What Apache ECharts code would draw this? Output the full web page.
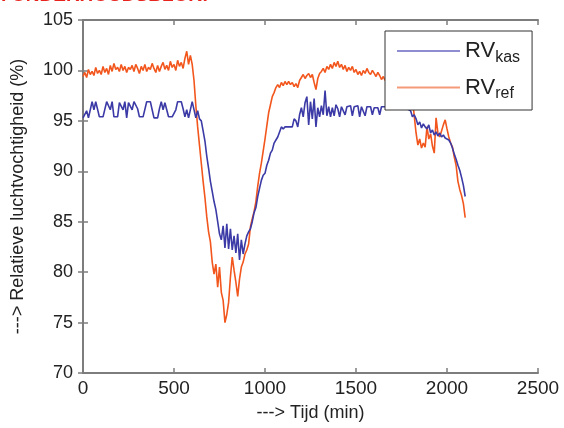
<!DOCTYPE html>
<html>
<head>
<meta charset="utf-8">
<script src="https://cdn.jsdelivr.net/npm/echarts@6/dist/echarts.min.js"></script>
<style>
  html, body { margin: 0; padding: 0; background: #fff; }
  #chart { width: 564px; height: 428px; }
</style>
</head>
<body>
<div id="chart"></div>
<script>
/* ---------- data: tijd (min), RV kas / RV ref (%) ---------- */
const tijd = [
  0, 10, 20, 30, 40, 50, 60, 70, 80, 90,
  100, 110, 120, 130, 140, 150, 160, 170, 180, 190,
  200, 210, 220, 230, 240, 250, 260, 270, 280, 290,
  300, 310, 320, 330, 340, 350, 360, 370, 380, 390,
  400, 410, 420, 430, 440, 450, 460, 470, 480, 490,
  500, 510, 520, 530, 540, 550, 560, 570, 580, 590,
  600, 610, 620, 630, 640, 650, 660, 670, 680, 690,
  700, 710, 720, 730, 740, 750, 760, 770, 780, 790,
  800, 810, 820, 830, 840, 850, 860, 870, 880, 890,
  900, 910, 920, 930, 940, 950, 960, 970, 980, 990,
  1000, 1010, 1020, 1030, 1040, 1050, 1060, 1070, 1080, 1090,
  1100, 1110, 1120, 1130, 1140, 1150, 1160, 1170, 1180, 1190,
  1200, 1210, 1220, 1230, 1240, 1250, 1260, 1270, 1280, 1290,
  1300, 1310, 1320, 1330, 1340, 1350, 1360, 1370, 1380, 1390,
  1400, 1410, 1420, 1430, 1440, 1450, 1460, 1470, 1480, 1490,
  1500, 1510, 1520, 1530, 1540, 1550, 1560, 1570, 1580, 1590,
  1600, 1610, 1620, 1630, 1640, 1650, 1660, 1670, 1680, 1690,
  1700, 1710, 1720, 1730, 1740, 1750, 1760, 1770, 1780, 1790,
  1800, 1810, 1820, 1830, 1840, 1850, 1860, 1870, 1880, 1890,
  1900, 1910, 1920, 1930, 1940, 1950, 1960, 1970, 1980, 1990,
  2000, 2010, 2020, 2030, 2040, 2050, 2060, 2070, 2080, 2090,
  2100
]

const rvKas = [
  95.3, 95.4, 96.0, 95.3, 95.4, 96.9, 96.1, 96.9, 96.8, 95.4,
  95.3, 95.4, 95.3, 96.9, 96.8, 96.1, 96.9, 95.4, 95.3, 95.4,
  96.8, 96.9, 96.1, 96.9, 95.3, 96.8, 96.9, 96.1, 96.9, 96.8,
  96.2, 95.4, 95.3, 95.4, 95.3, 96.9, 96.8, 96.9, 96.1, 95.3,
  95.4, 95.3, 96.2, 96.9, 96.1, 96.8, 96.9, 95.4, 95.3, 95.4,
  95.3, 96.1, 96.9, 96.8, 96.9, 96.2, 95.4, 96.1, 95.3, 95.4,
  96.9, 96.8, 95.3, 96.0, 95.2, 95.0, 94.0, 93.0, 91.5, 90.3,
  89.0, 88.0, 87.0, 86.2, 85.0, 83.8, 83.2, 84.6, 82.4, 84.8,
  82.3, 84.3, 82.2, 83.6, 81.9, 83.8, 81.2, 83.2, 81.8, 82.8,
  83.6, 84.0, 84.3, 85.0, 85.9, 86.4, 87.5, 88.3, 89.1, 89.6,
  89.8, 90.6, 91.1, 91.8, 92.1, 92.8, 93.1, 93.4, 93.3, 94.4,
  94.2, 94.4, 94.3, 94.4, 94.3, 94.4, 95.2, 95.0, 94.4, 95.6,
  96.3, 95.4, 96.8, 97.4, 94.6, 96.9, 95.2, 97.2, 94.4, 96.3,
  95.4, 96.5, 95.6, 98.0, 95.5, 96.4, 95.4, 96.3, 95.5, 96.6,
  96.2, 95.4, 96.4, 96.3, 95.6, 96.4, 96.3, 96.5, 95.5, 96.4,
  96.3, 96.5, 95.4, 96.4, 96.3, 95.5, 96.4, 96.3, 96.4, 95.6,
  96.3, 96.4, 96.3, 95.6, 96.4, 96.3, 96.4, 96.2, 96.4, 96.3,
  96.2, 96.4, 96.3, 96.2, 96.3, 96.4, 96.2, 96.3, 96.2, 96.1,
  96.0, 95.4, 95.6, 95.2, 94.6, 94.9, 94.3, 94.7, 94.4, 94.2,
  94.6, 93.8, 94.1, 93.6, 93.9, 93.5, 93.8, 93.4, 93.6, 93.3,
  93.4, 93.1, 92.8, 92.3, 91.7, 91.2, 90.6, 90.1, 89.4, 88.6,
  87.5
]

const rvRef = [
  99.4, 99.8, 99.3, 100.1, 99.6, 99.9, 99.5, 100.3, 99.7, 100.0,
  99.6, 100.4, 99.8, 100.2, 99.6, 100.5, 99.9, 100.7, 100.1, 100.3,
  99.9, 100.6, 100.0, 100.4, 99.8, 100.3, 100.1, 100.5, 99.9, 100.6,
  100.2, 99.7, 100.4, 100.0, 100.6, 99.9, 100.3, 100.1, 100.7, 100.2,
  99.8, 100.5, 99.9, 100.4, 100.8, 100.1, 100.5, 100.0, 100.9, 100.3,
  100.6, 100.0, 101.0, 100.4, 100.8, 100.2, 101.2, 101.9, 100.6, 101.5,
  100.6, 99.0, 96.5, 94.4, 92.6, 90.8, 89.0, 87.4, 85.5, 84.0,
  83.0, 81.0, 79.8, 80.8, 78.5, 80.5, 78.0, 77.2, 75.0, 75.8,
  77.0, 79.5, 81.5, 80.2, 79.0, 77.6, 79.3, 80.5, 81.0, 81.8,
  82.2, 82.8, 84.5, 85.3, 86.0, 87.0, 88.5, 89.8, 90.8, 92.0,
  93.2, 94.5, 95.8, 96.6, 97.4, 97.8, 98.3, 98.6, 98.3, 98.8,
  98.5, 98.9, 98.6, 98.9, 98.6, 98.8, 98.4, 98.7, 98.3, 99.0,
  99.3, 99.6, 99.2, 99.5, 99.7, 99.3, 99.6, 98.8, 98.1, 99.2,
  99.7, 99.9, 100.2, 99.8, 100.4, 100.1, 100.6, 100.2, 100.8, 100.4,
  100.9, 100.3, 100.6, 100.1, 100.5, 99.9, 100.3, 100.0, 100.4, 99.8,
  100.1, 99.6, 99.9, 99.5, 100.0, 99.7, 100.2, 99.8, 99.6, 100.0,
  99.7, 99.4, 99.8, 99.5, 99.1, 99.4, 99.0, 99.3, 98.9, 99.2,
  98.8, 99.1, 98.7, 99.0, 98.6, 98.9, 98.5, 98.8, 98.4, 98.6,
  98.0, 97.2, 95.5, 93.8, 92.6, 93.2, 92.3, 92.8, 92.4, 94.4,
  93.2, 93.7, 92.5, 91.8, 95.3, 93.8, 93.4, 94.0, 94.6, 95.1,
  94.2, 93.4, 92.8, 92.4, 91.4, 90.6, 89.0, 88.2, 87.6, 86.8,
  85.4
]

const xTicks = { min: 0, max: 2500, interval: 500 }
const yTicks = { min: 70, max: 105, interval: 5 }

/* ---------- style ---------- */
const font = 'Liberation Sans, Arial, sans-serif'
const axisGray = '#7d7d7d'
const blue = '#3b3aa6'
const orange = '#f2561d'

const frameAxis = (extra) => ({
  type: 'value',
  axisLine: { show: true, lineStyle: { color: axisGray, width: 2 } },
  axisTick: { show: true, inside: true, length: 5, lineStyle: { color: axisGray, width: 1.5 } },
  splitLine: { show: false },
  ...extra
})

const chart = echarts.init(document.getElementById('chart'))

chart.setOption({
  animation: false,
  backgroundColor: '#fff',
  textStyle: { fontFamily: font },
  grid: { left: 83, right: 26, top: 20, bottom: 55 },
  graphic: [
    {
      type: 'text',
      left: -8,
      top: -14,
      style: { text: 'A ONDERHOUDSBLOK:', fill: '#e8231d', font: 'bold 19px ' + font }
    }
  ],
  legend: {
    orient: 'vertical',
    left: 385,
    top: 31,
    backgroundColor: '#fff',
    borderColor: '#333',
    borderWidth: 1,
    borderRadius: 0,
    padding: [9, 12, 8, 12],
    itemWidth: 63,
    itemHeight: 2,
    itemGap: 11,
    data: [
      { name: 'kas', icon: 'rect', itemStyle: { color: '#8f8cd2' } },
      { name: 'ref', icon: 'rect', itemStyle: { color: '#f59a78' } }
    ],
    formatter: (name) => '{m|RV}{s|' + name + '}',
    textStyle: {
      color: '#222',
      rich: {
        m: { fontSize: 22, fontFamily: font, color: '#222' },
        s: { fontSize: 16, fontFamily: font, color: '#222', padding: [13, 0, 0, 0] }
      }
    }
  },
  xAxis: [
    frameAxis({
      ...xTicks,
      position: 'bottom',
      axisLabel: { color: '#222', fontSize: 19, margin: 6, formatter: (v) => String(v) },
      name: '---> Tijd (min)',
      nameLocation: 'middle',
      nameGap: 31,
      nameTextStyle: { color: '#222', fontSize: 18 }
    }),
    frameAxis({ ...xTicks, position: 'top', axisLabel: { show: false } })
  ],
  yAxis: [
    frameAxis({
      ...yTicks,
      position: 'left',
      axisLabel: { color: '#222', fontSize: 18, margin: 10 },
      name: '---> Relatieve luchtvochtigheid (%)',
      nameLocation: 'middle',
      nameGap: 56,
      nameTextStyle: { color: '#222', fontSize: 18 }
    }),
    frameAxis({ ...yTicks, position: 'right', axisLabel: { show: false } })
  ],
  series: [
    {
      name: 'kas',
      type: 'line',
      symbol: 'none',
      z: 3,
      lineStyle: { color: blue, width: 1.6 },
      itemStyle: { color: blue },
      data: tijd.map((t, i) => [t, rvKas[i]])
    },
    {
      name: 'ref',
      type: 'line',
      symbol: 'none',
      z: 2,
      lineStyle: { color: orange, width: 1.6 },
      itemStyle: { color: orange },
      data: tijd.map((t, i) => [t, rvRef[i]])
    }
  ]
})
</script>
</body>
</html>
